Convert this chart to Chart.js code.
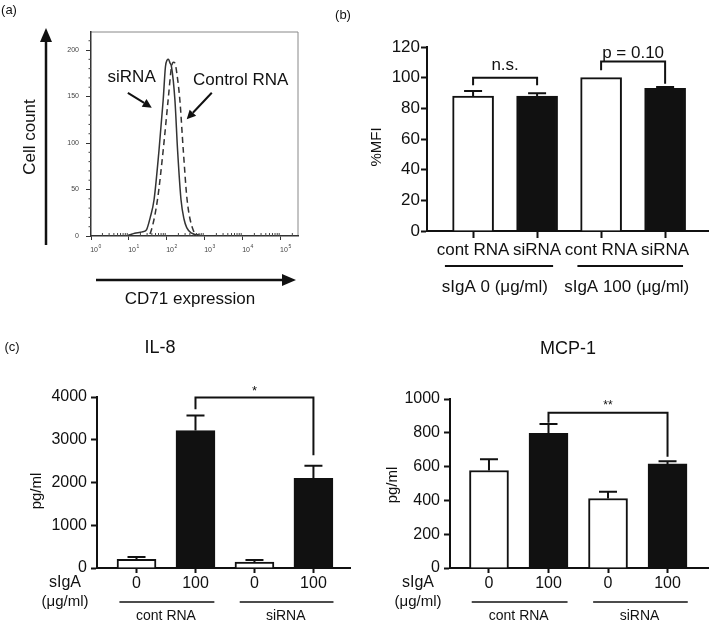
<!DOCTYPE html>
<html>
<head>
<meta charset="utf-8">
<title>CD71 knockdown and sIgA</title>
<script src="https://cdn.jsdelivr.net/npm/chart.js@4.4.1/dist/chart.umd.min.js"></script>
<style>
  body { margin: 0; background: #fff; }
  #fig { position: relative; width: 709px; height: 624px; overflow: hidden; font-family: "Liberation Sans", Arial, sans-serif; color: #111; }
  #fig canvas { position: absolute; }
  .t { position: absolute; white-space: nowrap; line-height: 1; transform: translate(-50%, -50%); }
</style>
</head>
<body>
<div id="fig">
  <canvas id="histChart" width="330" height="310" style="left:0;top:0"></canvas>
  <canvas id="mfiChart" width="369" height="310" style="left:340px;top:0"></canvas>
  <canvas id="il8Chart" width="355" height="294" style="left:0;top:330px"></canvas>
  <canvas id="mcpChart" width="354" height="294" style="left:355px;top:330px"></canvas>

  <div class="t" style="left:9px;top:9px;font-size:13px">(a)</div>
  <div class="t" style="left:343px;top:14px;font-size:13px">(b)</div>
  <div class="t" style="left:12px;top:346px;font-size:13px">(c)</div>
  <div class="t" style="left:160px;top:347px;font-size:18px">IL-8</div>
  <div class="t" style="left:568px;top:348px;font-size:18px">MCP-1</div>
  <div class="t" style="left:190px;top:298px;font-size:17px">CD71 expression</div>
</div>

<script>
// ---- (a) CD71 histogram, x in log10 decades ----
const decadeExp = ['0', '1', '2', '3', '4', '5'];   // tick labels are 10^exp
const countTicks = [0, 50, 100, 150, 200];
const siRnaLog   = [0, 0.9, 1.0, 1.15, 1.3, 1.4, 1.46, 1.56, 1.66, 1.79, 1.9, 1.96, 2.0, 2.04, 2.08, 2.12, 2.21, 2.28, 2.37, 2.45, 2.52, 2.65, 2.8, 3.0, 5.45];
const siRnaCount = [0, 0, 1, 3, 4, 5, 6.5, 20, 39, 92, 146, 182, 189, 190, 186, 182, 146, 92, 39, 18, 9, 3, 1, 0, 0];
const ctrlLog    = [0, 1.5, 1.59, 1.75, 1.9, 2.03, 2.12, 2.17, 2.21, 2.26, 2.34, 2.43, 2.53, 2.69, 2.84, 3.0, 5.45];
const ctrlCount  = [0, 0, 6.5, 39, 92, 146, 182, 187, 186, 175, 146, 92, 39, 6.5, 1, 0, 0];

// ---- (b) %MFI ----
const mfiLabels = ['cont RNA', 'siRNA', 'cont RNA', 'siRNA'];
const mfiMean = [88, 88, 100, 93];
const mfiSem = [3.3, 1.8, 0, 0.9];
const mfiGroups = ['sIgA 0 (μg/ml)', 'sIgA 100 (μg/ml)'];
const mfiSig = ['n.s.', 'p = 0.10'];

// ---- (c) cytokines ----
const doseLabels = ['0', '100', '0', '100'];
const rnaGroups = ['cont RNA', 'siRNA'];
const il8Mean = [205, 3215, 140, 2100];
const il8Sem = [55, 350, 47, 290];
const mcpMean = [577, 797, 411, 616];
const mcpSem = [67, 55, 40, 16];

const barFill = ['#ffffff', '#111111', '#ffffff', '#111111'];
const FONT = '"Liberation Sans", Arial, sans-serif';

Chart.defaults.font.family = FONT;
Chart.defaults.color = '#111';

function arrow(ctx, x0, y0, x1, y1, head, half) {
    const ang = Math.atan2(y1 - y0, x1 - x0);
    const bx = x1 - head * Math.cos(ang), by = y1 - head * Math.sin(ang);
    ctx.beginPath();
    ctx.moveTo(x0, y0);
    ctx.lineTo(bx, by);
    ctx.stroke();
    ctx.beginPath();
    ctx.moveTo(x1, y1);
    ctx.lineTo(bx + half * Math.sin(ang), by - half * Math.cos(ang));
    ctx.lineTo(bx - half * Math.sin(ang), by + half * Math.cos(ang));
    ctx.closePath();
    ctx.fill();
}

function sideTitle(ctx, text, x, y, size) {
    ctx.save();
    ctx.translate(x, y);
    ctx.rotate(-Math.PI / 2);
    ctx.font = size + 'px ' + FONT;
    ctx.fillStyle = '#111';
    ctx.textAlign = 'center';
    ctx.textBaseline = 'middle';
    ctx.fillText(text, 0, 0);
    ctx.restore();
}

// frame, minor ticks, decade labels, arrows and curve labels for the histogram
const histDecor = {
    id: 'histDecor',
    beforeDraw(chart) {
        const {ctx, chartArea: a} = chart;
        ctx.save();
        ctx.strokeStyle = '#888';
        ctx.lineWidth = 1;
        ctx.beginPath();
        ctx.moveTo(a.left, a.top);
        ctx.lineTo(a.right, a.top);
        ctx.lineTo(a.right, a.bottom);
        ctx.stroke();
        ctx.restore();
    },
    afterDraw(chart, args, o) {
        const {ctx, chartArea: a, scales: {x, y}} = chart;
        ctx.save();
        ctx.strokeStyle = '#444';
        ctx.lineWidth = 1;
        ctx.beginPath();
        for (let v = 10; v < y.max; v += 10) {
            if (v % 50 === 0) continue;
            const py = y.getPixelForValue(v);
            ctx.moveTo(a.left - 2.5, py);
            ctx.lineTo(a.left, py);
        }
        for (let d = 0; d < decadeExp.length; d++) {
            for (let k = 2; k < 10; k++) {
                const lv = d + Math.log10(k);
                if (lv > x.max) break;
                const px = x.getPixelForValue(lv);
                ctx.moveTo(px, a.bottom);
                ctx.lineTo(px, a.bottom - 3);
            }
        }
        ctx.stroke();

        // decade labels 10^n
        ctx.fillStyle = '#444';
        ctx.textBaseline = 'middle';
        ctx.textAlign = 'right';
        decadeExp.forEach((e, i) => {
            const px = x.getPixelForValue(i) + 7;
            ctx.font = '7px ' + FONT;
            ctx.fillText('10', px, a.bottom + 14);
            ctx.textAlign = 'left';
            ctx.font = '5px ' + FONT;
            ctx.fillText(e, px + 0.5, a.bottom + 11);
            ctx.textAlign = 'right';
        });

        ctx.fillStyle = '#111';
        ctx.strokeStyle = '#111';
        ctx.font = '17px ' + FONT;
        ctx.textAlign = 'center';
        ctx.lineWidth = 2;
        o.notes.forEach(n => {
            ctx.fillText(n.text, x.getPixelForValue(n.at[0]), y.getPixelForValue(n.at[1]));
            arrow(ctx, x.getPixelForValue(n.from[0]), y.getPixelForValue(n.from[1]),
                x.getPixelForValue(n.to[0]), y.getPixelForValue(n.to[1]), 9, 4.5);
        });

        // axis arrows and the y title
        ctx.lineWidth = 2.5;
        arrow(ctx, a.left - 45, a.bottom + 9, a.left - 45, a.top - 4, 14, 6);
        arrow(ctx, a.left + 5, a.bottom + 44, a.right - 2, a.bottom + 44, 14, 6);
        ctx.restore();
        sideTitle(ctx, 'Cell count', a.left - 61, 137, 17);
    }
};

new Chart(document.getElementById('histChart'), {
    type: 'line',
    data: {
        datasets: [{
            label: 'siRNA',
            data: siRnaLog.map((v, i) => ({x: v, y: siRnaCount[i]})),
            borderColor: '#333',
            borderWidth: 1.5,
            pointRadius: 0,
            cubicInterpolationMode: 'monotone'
        }, {
            label: 'Control RNA',
            data: ctrlLog.map((v, i) => ({x: v, y: ctrlCount[i]})),
            borderColor: '#333',
            borderWidth: 1.5,
            borderDash: [6, 4],
            pointRadius: 0,
            cubicInterpolationMode: 'monotone'
        }]
    },
    options: {
        responsive: false,
        animation: false,
        devicePixelRatio: 1,
        layout: { padding: { top: 32, right: 32, left: 0, bottom: 0 } },
        plugins: {
            legend: { display: false },
            tooltip: { enabled: false },
            histDecor: {
                notes: [
                    { text: 'siRNA', at: [1.07, 171], from: [0.97, 154], to: [1.6, 138] },
                    { text: 'Control RNA', at: [3.94, 167], from: [3.18, 154], to: [2.52, 125.5] }
                ]
            }
        },
        scales: {
            x: {
                type: 'linear',
                min: 0,
                max: 5.45,
                afterBuildTicks: s => { s.ticks = decadeExp.map((_, i) => ({value: i})); },
                afterFit: s => { s.height = 74; },
                grid: { drawOnChartArea: false, tickLength: 4, tickColor: '#333' },
                border: { color: '#333', width: 1.5 },
                ticks: { display: false }
            },
            y: {
                min: 0,
                max: 219.4,
                afterBuildTicks: s => { s.ticks = countTicks.map(v => ({value: v})); },
                afterFit: s => { s.width = 91; },
                grid: { drawOnChartArea: false, tickLength: 5, tickColor: '#333' },
                border: { color: '#333', width: 1.5 },
                ticks: { padding: 7, color: '#444', font: { size: 7 } }
            }
        }
    },
    plugins: [histDecor]
});

// ---- bar chart helpers ----
const errorBars = {
    id: 'errorBars',
    afterDatasetsDraw(chart, args, o) {
        const {ctx, scales: {y}} = chart;
        const meta = chart.getDatasetMeta(0);
        ctx.save();
        ctx.strokeStyle = '#111';
        ctx.lineWidth = 2;
        meta.data.forEach((bar, i) => {
            if (!o.sem[i]) return;
            const top = y.getPixelForValue(o.mean[i] + o.sem[i]);
            ctx.beginPath();
            ctx.moveTo(bar.x, bar.y);
            ctx.lineTo(bar.x, top);
            ctx.moveTo(bar.x - o.cap / 2, top);
            ctx.lineTo(bar.x + o.cap / 2, top);
            ctx.stroke();
        });
        ctx.restore();
    }
};

const sigBrackets = {
    id: 'sigBrackets',
    afterDraw(chart, args, o) {
        const {ctx, scales: {x, y}} = chart;
        ctx.save();
        ctx.strokeStyle = '#111';
        ctx.fillStyle = '#111';
        ctx.lineWidth = 2;
        ctx.textAlign = 'center';
        ctx.textBaseline = 'middle';
        ctx.font = o.font;
        o.items.forEach(b => {
            const x0 = x.getPixelForValue(b.pair[0]);
            const x1 = x.getPixelForValue(b.pair[1]);
            const yl = y.getPixelForValue(b.level);
            ctx.beginPath();
            ctx.moveTo(x0, y.getPixelForValue(b.ends[0]));
            ctx.lineTo(x0, yl);
            ctx.lineTo(x1, yl);
            ctx.lineTo(x1, y.getPixelForValue(b.ends[1]));
            ctx.stroke();
            ctx.fillText(b.text, (x0 + x1) / 2, y.getPixelForValue(b.textAt));
        });
        ctx.restore();
    }
};

const groupAxis = {
    id: 'groupAxis',
    afterDraw(chart, args, o) {
        const {ctx, chartArea: a, scales: {x}} = chart;
        ctx.save();
        ctx.strokeStyle = '#111';
        ctx.fillStyle = '#111';
        ctx.lineWidth = o.lineWidth;
        ctx.textAlign = 'center';
        ctx.textBaseline = 'middle';
        ctx.font = o.font;
        o.groups.forEach((g, i) => {
            ctx.beginPath();
            ctx.moveTo(x.getPixelForValue(o.spans[i][0]), a.bottom + o.lineGap);
            ctx.lineTo(x.getPixelForValue(o.spans[i][1]), a.bottom + o.lineGap);
            ctx.stroke();
            ctx.fillText(g, x.getPixelForValue(o.textAt[i]), a.bottom + o.textGap);
        });
        if (o.side) {
            ctx.font = '16px ' + FONT;
            ctx.fillText('sIgA', a.left - 32, a.bottom + 15);
            ctx.font = '15px ' + FONT;
            ctx.fillText('(μg/ml)', a.left - 32, a.bottom + 34);
        }
        ctx.restore();
        sideTitle(ctx, o.yTitle, o.yTitleX, o.yTitleY, 15);
    }
};

function barChart(id, o) {
    return new Chart(document.getElementById(id), {
        type: 'bar',
        data: {
            datasets: [{
                data: o.mean.map((v, i) => ({x: i, y: v})),
                backgroundColor: barFill,
                borderColor: '#111',
                borderWidth: 2,
                barThickness: o.barWidth
            }]
        },
        options: {
            responsive: false,
            animation: false,
            devicePixelRatio: 1,
            layout: { padding: { top: o.top, right: o.right, left: 0, bottom: 0 } },
            plugins: {
                legend: { display: false },
                tooltip: { enabled: false },
                errorBars: { mean: o.mean, sem: o.sem, cap: 18 },
                sigBrackets: { font: o.sigFont, items: o.brackets },
                groupAxis: o.groupAxis
            },
            scales: {
                x: {
                    type: 'linear',
                    min: o.xMin,
                    max: o.xMax,
                    offset: false,
                    afterBuildTicks: s => { s.ticks = o.labels.map((_, i) => ({value: i})); },
                    afterFit: s => { s.height = o.xHeight; },
                    grid: { drawOnChartArea: false, offset: false, tickLength: o.xTick, tickWidth: 2, tickColor: '#111' },
                    border: { color: '#111', width: 2 },
                    ticks: {
                        autoSkip: false, maxRotation: 0, minRotation: 0,
                        padding: o.xPad, color: '#111', font: { size: o.fs },
                        callback: v => o.labels[v]
                    }
                },
                y: {
                    min: 0,
                    max: o.yMax,
                    afterFit: s => { s.width = o.yWidth; },
                    grid: { drawOnChartArea: false, tickLength: 6, tickWidth: 2, tickColor: '#111' },
                    border: { color: '#111', width: 2 },
                    ticks: { stepSize: o.step, padding: o.yPad, color: '#111', font: { size: o.fs }, callback: v => String(v) }
                }
            }
        },
        plugins: [errorBars, sigBrackets, groupAxis]
    });
}

barChart('mfiChart', {
    labels: mfiLabels, mean: mfiMean, sem: mfiSem,
    barWidth: 41, xMin: -0.72, xMax: 3.67, yMax: 120, step: 20,
    top: 47, right: 1, yWidth: 87, xHeight: 79,
    fs: 17, xTick: 7, xPad: 2, yPad: 1,
    sigFont: '17px ' + FONT,
    brackets: [
        { pair: [0, 1], level: 100, ends: [95, 95], text: mfiSig[0], textAt: 108 },
        { pair: [2, 3], level: 110.5, ends: [104.8, 96.1], text: mfiSig[1], textAt: 115.7 }
    ],
    groupAxis: {
        groups: mfiGroups, spans: [[-0.44, 1.25], [1.63, 3.28]], textAt: [0.34, 2.4],
        lineGap: 35, textGap: 56, lineWidth: 2, font: '17px ' + FONT,
        yTitle: '%MFI', yTitleX: 37, yTitleY: 147
    }
});

barChart('il8Chart', {
    labels: doseLabels, mean: il8Mean, sem: il8Sem,
    barWidth: 39, xMin: -0.67, xMax: 3.62, yMax: 4000, step: 1000,
    top: 67, right: 5, yWidth: 97, xHeight: 56,
    fs: 16, xTick: 5, xPad: 1, yPad: 4,
    sigFont: '13px ' + FONT,
    brackets: [{ pair: [1, 3], level: 3990, ends: [3714, 2637], text: '*', textAt: 4130 }],
    groupAxis: {
        groups: rnaGroups, spans: [[-0.29, 1.32], [1.75, 3.34]], textAt: [0.5, 2.53],
        lineGap: 34, textGap: 48, lineWidth: 1.5, font: '14px ' + FONT, side: true,
        yTitle: 'pg/ml', yTitleX: 37, yTitleY: 161
    }
});

barChart('mcpChart', {
    labels: doseLabels, mean: mcpMean, sem: mcpSem,
    barWidth: 39, xMin: -0.655, xMax: 3.68, yMax: 1000, step: 200,
    top: 69, right: 1, yWidth: 95, xHeight: 56,
    fs: 16, xTick: 5, xPad: 1, yPad: 4,
    sigFont: '12px ' + FONT,
    brackets: [{ pair: [1, 3], level: 919, ends: [860, 659], text: '**', textAt: 962 }],
    groupAxis: {
        groups: rnaGroups, spans: [[-0.29, 1.32], [1.75, 3.34]], textAt: [0.5, 2.53],
        lineGap: 34, textGap: 48, lineWidth: 1.5, font: '14px ' + FONT, side: true,
        yTitle: 'pg/ml', yTitleX: 38, yTitleY: 155
    }
});
</script>
</body>
</html>
